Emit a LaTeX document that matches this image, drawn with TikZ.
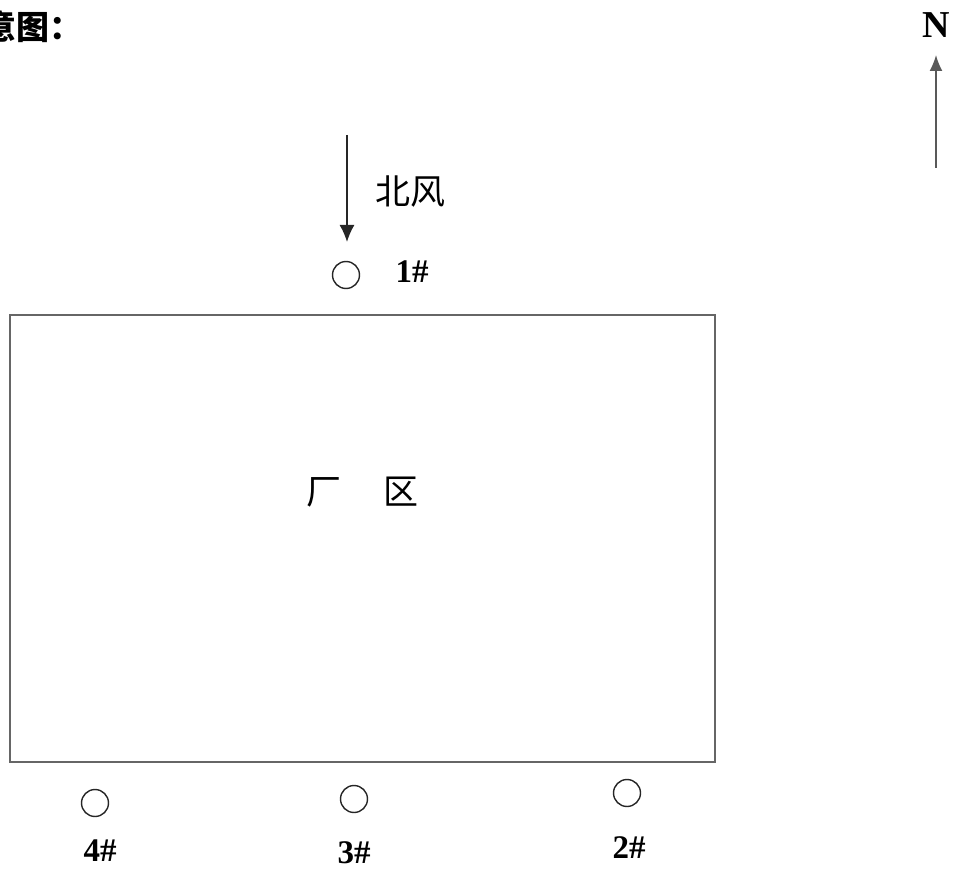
\documentclass[tikz,border=0pt]{standalone}
\usepackage{fontspec}
\setmainfont{Liberation Serif}
\newfontfamily\cjk{Noto Sans CJK SC}
\usetikzlibrary{arrows.meta}
\begin{document}
\begin{tikzpicture}[x=1pt,y=-1pt,
  lbl/.style={font=\fontsize{33}{33}\selectfont\bfseries, inner sep=0pt},
  pt/.style={circle, draw=black!85, line width=1.4pt, minimum size=27pt, inner sep=0pt},
  cn/.style={font=\cjk\fontsize{35}{35}\selectfont, inner sep=0pt}]
\useasboundingbox (0,0) rectangle (954,869);
% title fragment (cut at the left edge, as in the reference)
\node[anchor=west, inner sep=0pt, font=\cjk\bfseries\fontsize{33}{33}\selectfont] (title) at (-17,27) {意图：};
% north arrow
\node[font=\fontsize{38}{38}\selectfont\bfseries, inner sep=0pt] (N) at (936,25) {N};
\coordinate (ntail) at (936,168);
\coordinate (nhead) at (936,55);
\draw[black!65, line width=1.6pt, -{Latex[length=16pt,width=13pt]}] (ntail) -- (nhead);
% plant area
\node[draw=black!60, line width=1.2pt, minimum width=705pt, minimum height=447pt, inner sep=0pt] (plant) at (362.5,538.5) {};
\node[cn] (plantlbl) at (362,492) {厂\hspace{42pt}区};
% wind
\coordinate (wtail) at (347,135);
\coordinate (whead) at (347,242);
\draw[black!85, line width=1.5pt, -{Latex[length=17pt,width=15pt]}] (wtail) -- (whead);
\node[cn] (wind) at (410,192) {北风};
% sampling points
\node[pt] (p1) at (346,275) {};
\node[lbl] (l1) at (412,272) {1\#};
\node[pt] (p4) at (95,803) {};
\node[lbl] (l4) at (100,851) {4\#};
\node[pt] (p3) at (354,799) {};
\node[lbl] (l3) at (354,853) {3\#};
\node[pt] (p2) at (627,793) {};
\node[lbl] (l2) at (629,848) {2\#};
\end{tikzpicture}
\end{document}
